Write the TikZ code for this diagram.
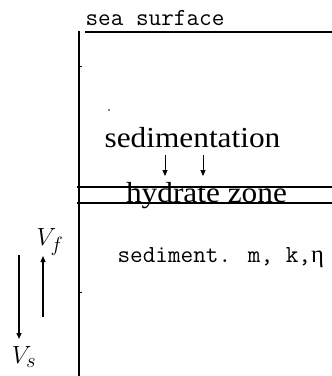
\documentclass[tikz,border=0pt]{standalone}
\usepackage{fontspec}
\usepackage{tikz}
\usetikzlibrary{arrows.meta,positioning}
\newfontfamily\seaserif{Liberation Serif}

\begin{document}
\begin{tikzpicture}[x=1pt,y=-1pt,>={Triangle[length=6pt,width=5pt]},line width=1.2pt]
\tikzset{mono/.style={font=\ttfamily\fontsize{24.5}{26}\selectfont,inner sep=0pt},
  roman/.style={font=\seaserif\fontsize{29}{31}\selectfont,inner sep=0pt,xscale=1.08},
  vel/.style={font=\fontsize{28}{30}\selectfont,inner sep=0pt}}
\useasboundingbox (0,0) rectangle (332,376);
\node[mono,anchor=base west] (surf) at (85,25) {sea surface};
\coordinate (st) at (85,32);\coordinate (se) at (332,32);
\coordinate (at) at (79,31);\coordinate (ab) at (79,376);
\draw (st)--(se);\draw (at)--(ab);
\coordinate (ht) at (77,187);\coordinate (hte) at (332,187);
\coordinate (hb) at (77,203);\coordinate (hbe) at (332,203);
\draw (ht)--(hte);\draw (hb)--(hbe);
\node[roman,anchor=base] (sedi) at (192.5,147) {sedimentation};
\node[roman,anchor=base] (hyd) at (206.5,202) {hydrate zone};
\coordinate (a1) at (165,155);\coordinate (a1e) at (165,176);
\coordinate (a2) at (203,155);\coordinate (a2e) at (203,176);
\draw[->,line width=1pt] (a1)--(a1e);\draw[->,line width=1pt] (a2)--(a2e);
\node[mono,anchor=base west] (sed) at (117,262) {sediment. m, k,{\seaserif η}};
% velocities
\node[vel] (vf) at (50,242) {$V_f$};\node[vel] (vs) at (24,357) {$V_s$};
\coordinate (f0) at (43,317);\coordinate (f1) at (43,256);
\coordinate (s0) at (19,255);\coordinate (s1) at (19,339);
\draw[->] (f0)--(f1);\draw[->] (s0)--(s1);
% marks
\draw[line width=0.8pt] (79,66)--(81.5,66);\draw[line width=0.8pt] (79,292)--(81.5,292);
\fill (109,110) circle (0.8);
\end{tikzpicture}
\end{document}
